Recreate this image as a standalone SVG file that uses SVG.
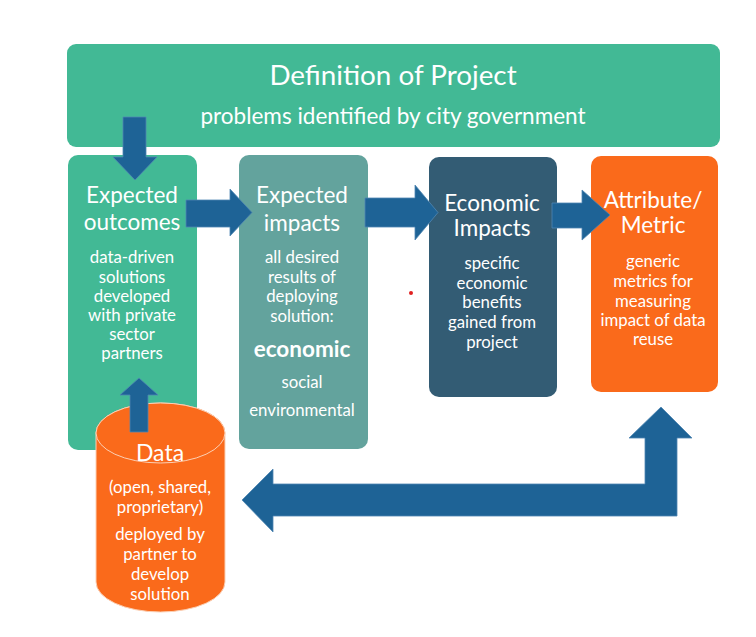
<svg xmlns="http://www.w3.org/2000/svg" width="756" height="637" viewBox="0 0 756 637">
<style>
text{font-family:Lato,"Open Sans","Liberation Sans",sans-serif;fill:#fff;text-anchor:middle}
.t{font-size:22.5px}
.b{font-size:16.8px}
.arr{fill:#1e6396;stroke:#4f86b3;stroke-width:0.8}
</style>
<rect width="756" height="637" fill="#fff"/>
<g id="definition">
<rect x="67" y="44" width="653" height="103" rx="9" fill="#42b995"/>
<text x="393" y="85" style="font-size:27.8px">Definition of Project</text>
<text x="393" y="124" style="font-size:22.5px">problems identified by city government</text>
</g>
<g id="outcomes">
<rect x="68" y="155" width="129" height="295" rx="10" fill="#42b995"/>
<text class="t" x="132" y="203">Expected</text>
<text class="t" x="132" y="230">outcomes</text>
<text class="b" x="132" y="263">data-driven</text>
<text class="b" x="132" y="283">solutions</text>
<text class="b" x="132" y="302">developed</text>
<text class="b" x="132" y="321">with private</text>
<text class="b" x="132" y="340">sector</text>
<text class="b" x="132" y="359">partners</text>
</g>
<g id="impacts">
<rect x="239" y="155" width="129" height="294" rx="10" fill="#63a39d"/>
<text class="t" x="302" y="203">Expected</text>
<text class="t" x="302" y="231">impacts</text>
<text class="b" x="302" y="263">all desired</text>
<text class="b" x="302" y="283">results of</text>
<text class="b" x="302" y="302">deploying</text>
<text class="b" x="302" y="322">solution:</text>
<text x="302" y="357" style="font-size:22.5px;font-weight:bold">economic</text>
<text class="b" x="302" y="388">social</text>
<text class="b" x="302" y="416">environmental</text>
</g>
<g id="economic">
<rect x="429" y="157" width="128" height="240" rx="10" fill="#335c74"/>
<text class="t" x="492" y="211">Economic</text>
<text class="t" x="492" y="236">Impacts</text>
<text class="b" x="492" y="269">specific</text>
<text class="b" x="492" y="289">economic</text>
<text class="b" x="492" y="308">benefits</text>
<text class="b" x="492" y="328">gained from</text>
<text class="b" x="492" y="348">project</text>
</g>
<g id="attribute">
<rect x="591" y="156" width="127" height="236" rx="10" fill="#fa6a1b"/>
<text class="t" x="653" y="208">Attribute/</text>
<text class="t" x="653" y="233">Metric</text>
<text class="b" x="653" y="267">generic</text>
<text class="b" x="653" y="287">metrics for</text>
<text class="b" x="653" y="307">measuring</text>
<text class="b" x="653" y="326">impact of data</text>
<text class="b" x="653" y="345">reuse</text>
</g>
<g id="data">
<path d="M96 433 V582 A64.5 30 0 0 0 225 582 V433 A64.5 30 0 0 0 96 433 Z" fill="#fa6a1b" stroke="#fbd0b5" stroke-width="1"/>
<ellipse cx="160.5" cy="433" rx="64.5" ry="30" fill="#fa6a1b" stroke="#fbd0b5" stroke-width="1"/>
<text x="160" y="461" style="font-size:23px">Data</text>
<text class="b" x="160" y="493">(open, shared,</text>
<text class="b" x="160" y="513">proprietary)</text>
<text class="b" x="160" y="540">deployed by</text>
<text class="b" x="160" y="560">partner to</text>
<text class="b" x="160" y="580">develop</text>
<text class="b" x="160" y="600">solution</text>
</g>
<g id="connectors">
<path class="arr" d="M123 117 H146 V157 H157 L135 180 L113 157 H123 Z"/>
<path class="arr" d="M130 432 V395 H120 L139 378 L158 395 H148 V432 Z"/>
<path class="arr" d="M186 200 H230 V189 L252 212.5 L230 236 V227 H186 Z"/>
<path class="arr" d="M365 198 H415 V185 L438 212.5 L415 240 V227 H365 Z"/>
<path class="arr" d="M552 203 H582 V190 L610 215 L582 240 V228 H552 Z"/>
<path class="arr" d="M677 516 H273 V532 L242 500 L273 469 V484 H645 V438 H629 L661 407 L692 438 H677 Z"/>
</g>
<circle cx="411" cy="293" r="2" fill="#e02020"/>
</svg>
